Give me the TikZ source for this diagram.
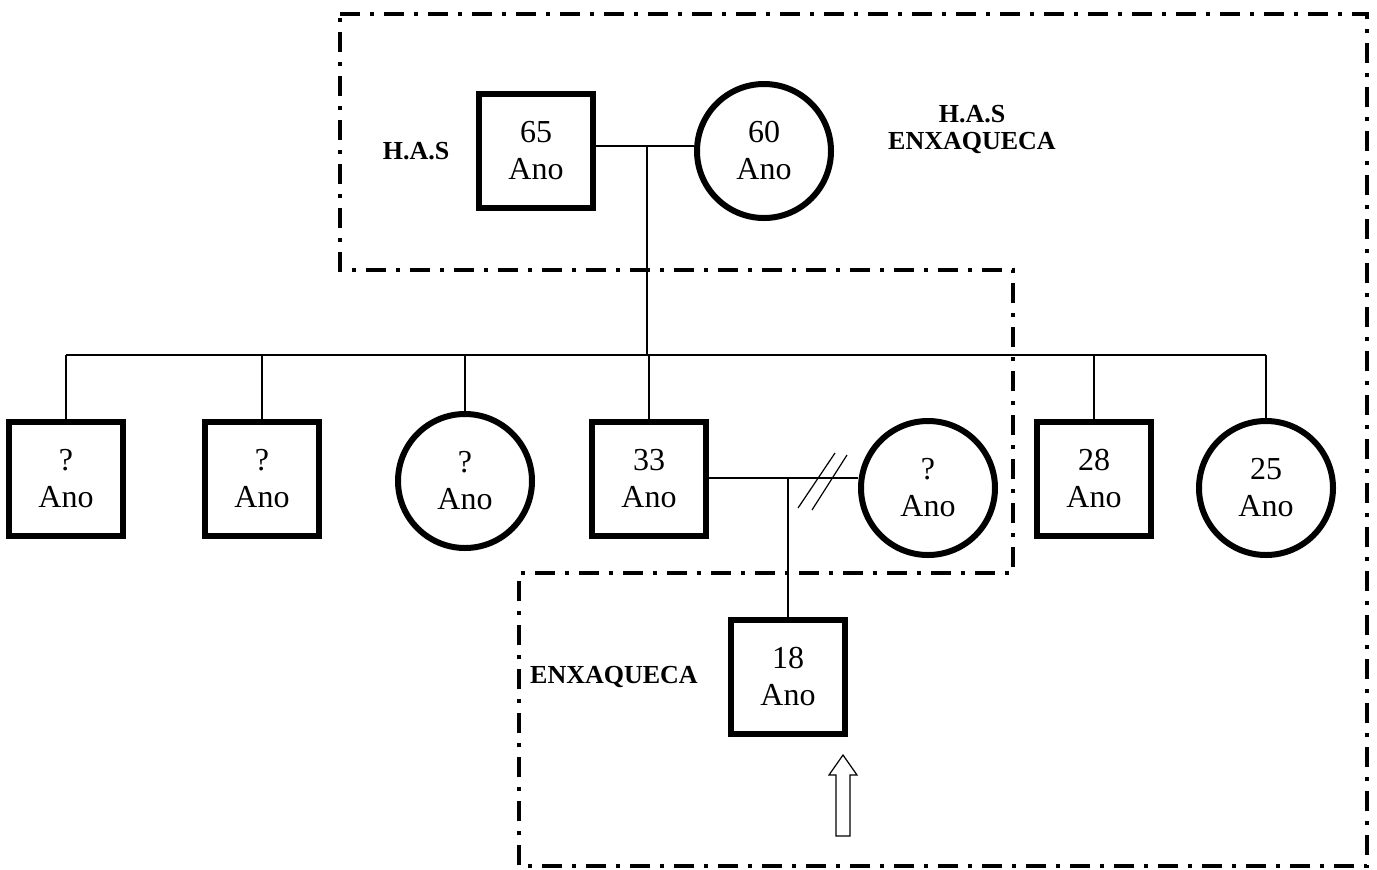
\documentclass[tikz,border=0pt]{standalone}
\usepackage{fontspec}
\setmainfont{Liberation Serif}
\usepackage{tikz}
\usetikzlibrary{calc}

\tikzset{
  male/.style={draw,line width=3pt,minimum size=57pt,inner sep=0pt,align=center,
    font=\fontsize{16}{18.5}\selectfont},
  female/.style={draw,circle,line width=3pt,minimum size=67pt,inner sep=0pt,align=center,
    font=\fontsize{16}{18.5}\selectfont},
  tag/.style={align=center,font=\fontsize{13}{13.5}\selectfont\bfseries},
  frame/.style={line width=2pt,dash pattern=on 10pt off 5pt on 2pt off 5pt},
  link/.style={line width=0.8pt}
}

\begin{document}
\begin{tikzpicture}[x=0.5pt,y=-0.5pt]
\useasboundingbox (0,0) rectangle (1377,869);

% parents
\node[male] (father) at (536,151) {65\\Ano};
\node[female] (mother) at (764,151) {60\\Ano};
\node[tag] (hasf) at (416,151) {H.A.S};
\node[tag] (hasm) at (972,129) {H.A.S\\ENXAQUECA};

% children
\node[male] (c1) at (66,479) {?\\Ano};
\node[male] (c2) at (262,479) {?\\Ano};
\node[female] (c3) at (465,481) {?\\Ano};
\node[male] (c4) at (649,479) {33\\Ano};
\node[female] (wife) at (928,488) {?\\Ano};
\node[male] (c5) at (1094,479) {28\\Ano};
\node[female] (c6) at (1266,488) {25\\Ano};

% index case
\node[male] (son) at (788,677) {18\\Ano};
\node[tag] (enx) at (614,677) {ENXAQUECA};

\coordinate (pj) at (647,146);
\coordinate (sib) at (647,355);
\coordinate (mj) at (788,478);

\draw[link] (father.east |- pj) -- (mother.west |- pj);
\draw[link] (pj) -- (sib);
\draw[link] (c1.north |- sib) -- (c6.north |- sib);
\foreach \k in {c1,c2,c3,c5,c6}
  \draw[link] (\k.north |- sib) -- (\k.north);
\draw[link] (c4.north |- sib) -- (c4.north);
\draw[link] (c4.east |- mj) -- (wife.west |- mj);
\draw[link] (mj) -- (son.north);
% divorce
\draw[line width=0.6pt] ($(mj)+(10,30)$) -- ($(mj)+(47,-25)$);
\draw[line width=0.6pt] ($(mj)+(24,32)$) -- ($(mj)+(59,-23)$);

% proband arrow
\draw[line width=0.6pt] (836,836) -- (836,775) -- (829,775) -- (843,755)
  -- (857,775) -- (850,775) -- (850,836) -- cycle;

% family boxes
\draw[frame] (340,14) -- (1367,14) -- (1367,866) -- (519,866) -- (519,573)
  -- (1013,573) -- (1013,270) -- (340,270) -- cycle;
\end{tikzpicture}
\end{document}
